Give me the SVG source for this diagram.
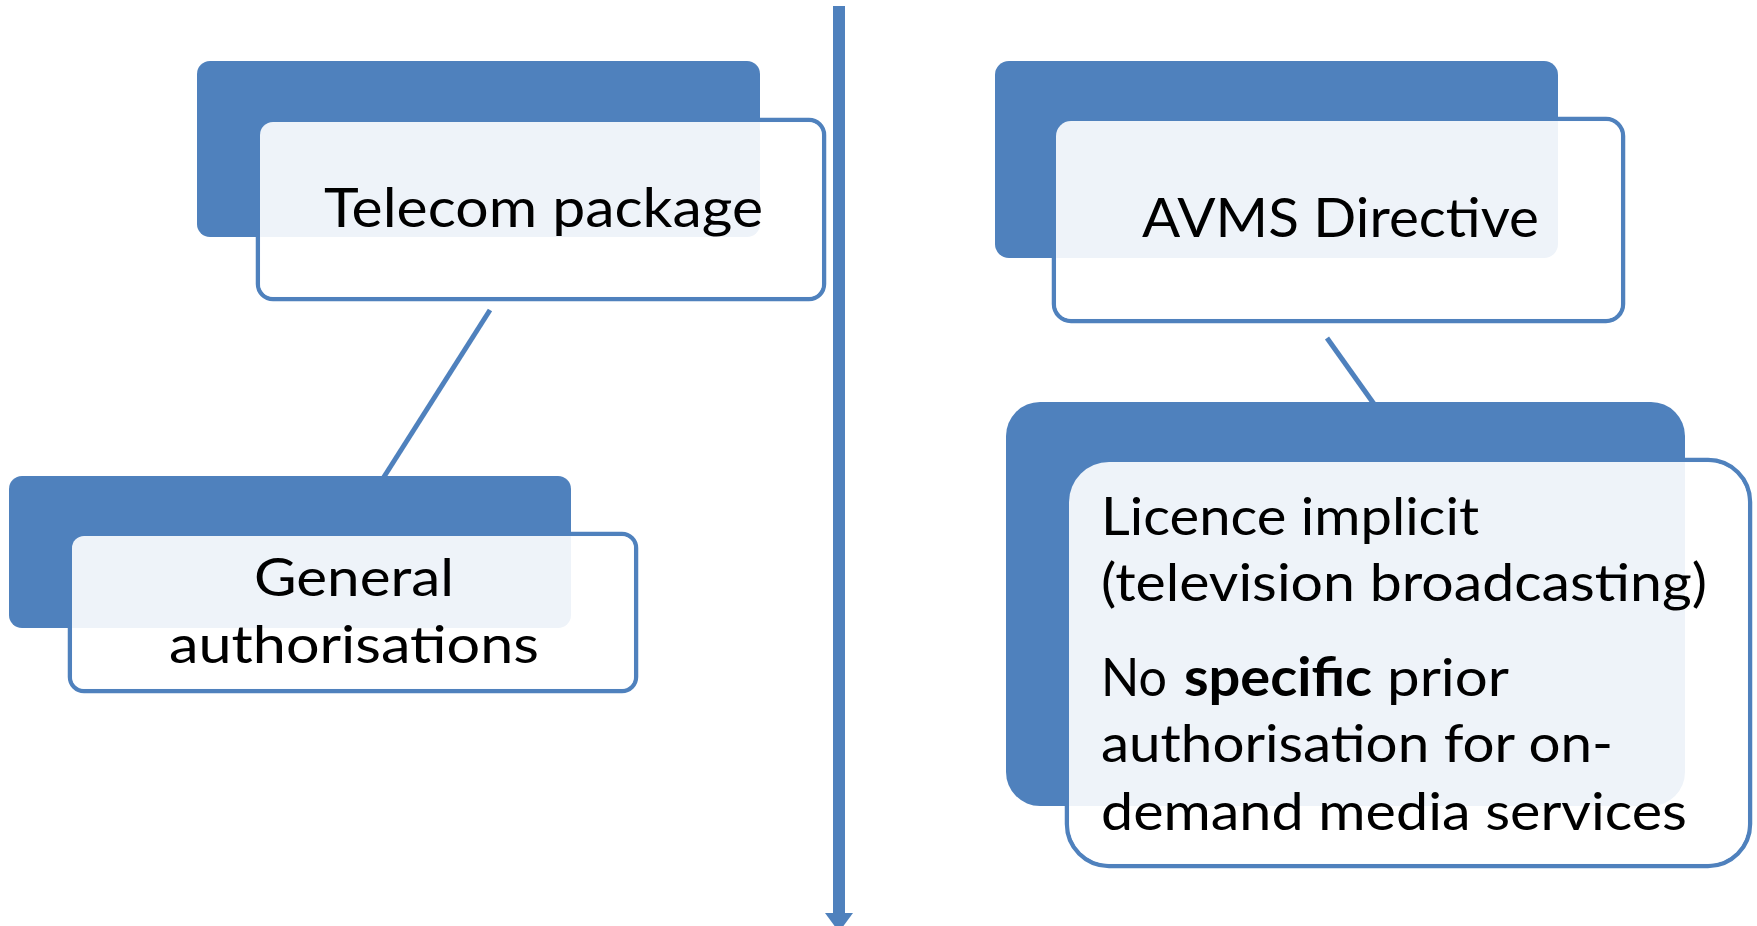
<svg xmlns="http://www.w3.org/2000/svg" width="1757" height="926" viewBox="0 0 1757 926">
<style>
.back{fill:#4F81BD}
.front{fill:#FFFFFF;stroke:#4F81BD;stroke-width:4.5}
.over{fill:#FFFFFF;fill-opacity:0.9}
.conn{stroke:#4F81BD;stroke-width:5;fill:none}
.axis{stroke:#4F81BD;stroke-width:12;fill:none}
.t{font-family:Lato,"Open Sans","Liberation Sans",sans-serif;fill:#000000}
.big{font-size:55px}
.mid{font-size:53px}
.b{font-weight:bold}
</style>
<defs>
<marker id="arrow" markerUnits="userSpaceOnUse" viewBox="0 -14 20 28" refX="0" refY="0" markerWidth="20" markerHeight="28" orient="auto">
<path d="M0,-14 L19,0 L0,14 Z" fill="#4F81BD"/>
</marker>
</defs>
<rect width="1757" height="926" fill="#FFFFFF"/>
<g id="connectors">
<line class="axis" x1="839" y1="6" x2="839" y2="913" marker-end="url(#arrow)"/>
<line class="conn" x1="490" y1="310" x2="368" y2="502"/>
<line class="conn" x1="1327" y1="338" x2="1374" y2="404"/>
</g>
<g id="telecom">
<rect class="front" x="258" y="120" width="566" height="179" rx="15"/>
<rect class="back" x="197" y="61" width="563" height="176" rx="13"/>
<rect class="over" x="260" y="122" width="562" height="175" rx="13"/>
<text class="t big" x="324" y="227" textLength="439" lengthAdjust="spacingAndGlyphs">Telecom package</text>
</g>
<g id="general">
<rect class="front" x="70" y="534" width="566" height="157" rx="14"/>
<rect class="back" x="9" y="476" width="562" height="152" rx="13"/>
<rect class="over" x="72" y="536" width="562" height="153" rx="12"/>
<text class="t mid" x="254" y="596" textLength="200" lengthAdjust="spacingAndGlyphs">General</text>
<text class="t mid" x="169" y="663" textLength="370" lengthAdjust="spacingAndGlyphs">authorisations</text>
</g>
<g id="avms">
<rect class="front" x="1054" y="119" width="569" height="202" rx="17"/>
<rect class="back" x="995" y="61" width="563" height="197" rx="14"/>
<rect class="over" x="1056" y="121" width="565" height="198" rx="15"/>
<text class="t big" x="1142" y="237" textLength="397" lengthAdjust="spacingAndGlyphs">AVMS Directive</text>
</g>
<g id="licence">
<rect class="front" x="1067" y="460" width="683" height="406" rx="42"/>
<rect class="back" x="1006" y="402" width="679" height="404" rx="34"/>
<rect class="over" x="1069" y="462" width="679" height="402" rx="40"/>
<text class="t mid" x="1101" y="535" textLength="378" lengthAdjust="spacingAndGlyphs">Licence implicit</text>
<text class="t mid" x="1101" y="601" textLength="606" lengthAdjust="spacingAndGlyphs">(television broadcasting)</text>
<text class="t mid" y="696"><tspan x="1101" textLength="66" lengthAdjust="spacingAndGlyphs">No</tspan> <tspan class="b" x="1184" textLength="188" lengthAdjust="spacingAndGlyphs">specific</tspan> <tspan x="1387" textLength="122" lengthAdjust="spacingAndGlyphs">prior</tspan></text>
<text class="t mid" x="1101" y="762" textLength="512" lengthAdjust="spacingAndGlyphs">authorisation for on-</text>
<text class="t mid" x="1101" y="830" textLength="586" lengthAdjust="spacingAndGlyphs">demand media services</text>
</g>
</svg>
